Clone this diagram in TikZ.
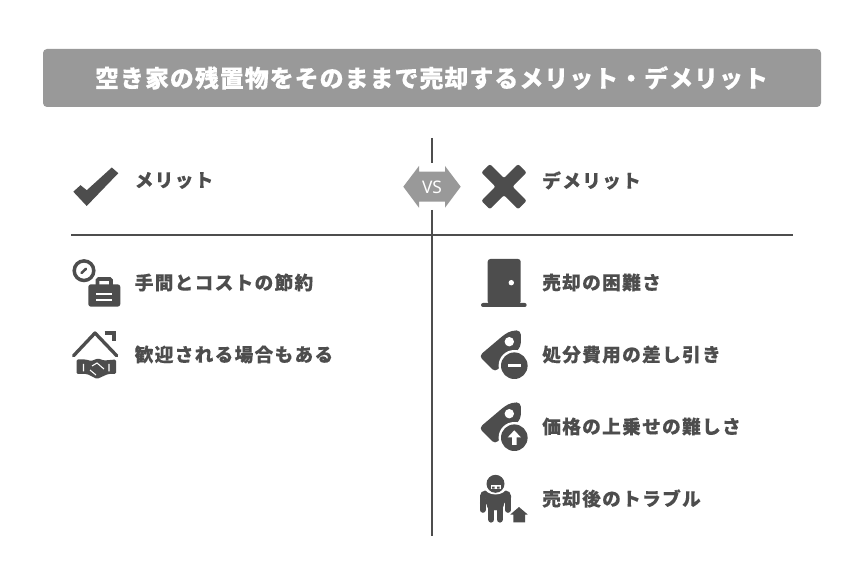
\documentclass[tikz,border=0pt]{standalone}
\usepackage{fontspec}
\setmainfont{Noto Sans CJK JP}[BoldFont={Noto Sans CJK JP Bold}]
\newfontfamily\jpb{Noto Sans CJK JP}[LetterSpace=7,FakeBold=0.2]
\newfontfamily\jpt{Noto Sans CJK JP}[LetterSpace=4,FakeBold=0.25]
\newfontfamily\vsf{Noto Sans}
\definecolor{dk}{HTML}{4D4D4D}
\definecolor{md}{HTML}{999999}
\definecolor{tx}{HTML}{4D4D4D}
\tikzset{
 item/.style={anchor=west,inner sep=0pt,text=tx,font=\jpb\bfseries\fontsize{14}{16}\selectfont},
 rule/.style={draw=dk,line width=1.5pt},
 whl/.style={draw=white,line width=1.5pt},
}
\begin{document}
\begin{tikzpicture}[x=0.75pt,y=-0.75pt]
\useasboundingbox (0,0) rectangle (864,573);
\fill[white] (0,0) rectangle (864,573);
\node[fill=md,rounded corners=3pt,minimum width=583.5pt,minimum height=43.5pt,inner sep=0pt,anchor=center] (banner) at (432,78) {};
\node[text=white,font=\jpt\bfseries\fontsize{18}{22}\selectfont,inner sep=0pt] (title) at (431.5,78) {空き家の残置物をそのままで売却するメリット・デメリット};
% rules
\coordinate (vt) at (432,138); \coordinate (vtb) at (432,163);
\coordinate (vb) at (432,210); \coordinate (vbb) at (432,536);
\coordinate (hl) at (71,235); \coordinate (hr) at (793,235);
\draw[rule] (vt)--(vtb);
\draw[rule] (vb)--(vbb);
\draw[rule] (hl)--(hr);
% VS
\fill[md] (403.3,186.7)--(419,166)--(419,171.7)--(445,171.7)--(445,166)--(460.7,186.7)--(445,207.7)--(445,201.7)--(419,201.7)--(419,207.7)--cycle;
\node[text=white,font=\vsf\fontsize{13}{14}\selectfont,inner sep=0pt] (vs) at (432,187) {VS};
% check
\fill[dk] (73.3,191.7)--(80.5,185.2)--(86.8,190.2)--(111.8,167.5)--(118.3,173.2)--(86.7,206)--cycle;
% cross
\begin{scope}[shift={(504,186.7)},rotate=45]
\fill[dk,rounded corners=1.5pt] (-6,-26)--(6,-26)--(6,-6)--(26,-6)--(26,6)--(6,6)--(6,26)--(-6,26)--(-6,6)--(-26,6)--(-26,-6)--(-6,-6)--cycle;
\end{scope}
% heads
\node[item] (merit) at (134.5,180.5) {メリット};
\node[item] (demerit) at (542,180.5) {デメリット};
% items
\node[item] (m1) at (134.5,282.5) {手間とコストの節約};
\node[item] (m2) at (134.5,354.5) {歓迎される場合もある};
\node[item] (d1) at (542,282.5) {売却の困難さ};
\node[item] (d2) at (542,354.5) {処分費用の差し引き};
\node[item] (d3) at (542,426.5) {価格の上乗せの難しさ};
\node[item] (d4) at (542,498.5) {売却後のトラブル};
% clock
\draw[dk,line width=2.6pt] (84,270.7) circle (9.8);
\draw[dk,line width=1.9pt,line cap=round] (81.5,273)--(86,268.8);
% briefcase
\draw[dk,line width=2.8pt,rounded corners=1pt] (97.5,285)--(97.5,279)--(111,279)--(111,285);
\fill[dk,rounded corners=2pt] (88.3,284.3) rectangle (120.3,306.7);
\draw[whl] (96,294)--(112.3,294);
\draw[whl] (96,300)--(112.3,300);
% house
\draw[dk,line width=2.5pt,line join=round,line cap=round] (73.5,355.8)--(95,333)--(116.8,355.8);
\draw[dk,line width=2.8pt] (104.5,332.8)--(114.3,332.8)--(114.3,341);
% handshake
\fill[dk,rounded corners=1pt] (76.5,359.5)--(86,359.5)--(91,361)--(98,358.5)--(104,360.5)--(116,359.5)--(116,374)--(108,374)--(97,379)--(87,374)--(76.5,374)--cycle;
\draw[white,line width=0.8pt] (83.5,364)--(83.5,371.5) (109,364)--(109,371.5) (90,370)--(96,375) (92,366)--(97,363)--(104,369);
% door
\fill[dk,rounded corners=2pt] (487.7,304)--(487.7,259)--(520.7,259)--(520.7,304)--cycle;
\fill[dk,rounded corners=1.5pt] (481,303)--(526.7,303)--(526.7,307)--(481,307)--cycle;
\fill[white] (511.3,282.7) circle (2.7);
% tags
\foreach \dy in {0,72}{
\begin{scope}[yshift={-0.75pt*\dy}]
\fill[dk,rounded corners=3pt] (479,356)--(505,334)--(512,330.5)--(520.8,330.5)--(520.8,347)--(495,372)--cycle;
\fill[white] (509.3,341.7) circle (4.7);
\fill[white] (514.3,365.7) circle (15.7);
\fill[dk] (514.3,365.7) circle (13.3);
\end{scope}}
\draw[white,line width=2.2pt] (508,365.7)--(520.6,365.7);
\fill[white] (514.3,430.3)--(521,437.5)--(516.5,437.5)--(516.5,445)--(512.2,445)--(512.2,437.5)--(507.6,437.5)--cycle;
% person
\draw[dk,line width=4.2pt,line cap=round] (482.8,499)--(482.8,510);
\draw[dk,line width=4.2pt,line cap=round] (508,499)--(508,510);
\draw[dk,line width=4.7pt,line cap=round] (491.3,505)--(491.3,519.5);
\draw[dk,line width=4.7pt,line cap=round] (499.7,505)--(499.7,519.5);
\fill[dk,rounded corners=3pt] (487,510)--(487,497)--(503.5,497)--(503.5,510)--cycle;
\fill[dk,rounded corners=4pt] (480,503)--(480,490.5)--(511,490.5)--(511,503)--(505.6,503)--(505.6,499)--(504,499)--(503.5,510)--(487,510)--(486,499)--(485.3,499)--(485.3,503)--cycle;
\fill[white] (495.5,487) ellipse (11 and 7.5);
\fill[dk] (495.5,483.8) circle (9);
\fill[white] (490.5,485.3) rectangle (501,488.5);
\fill[dk] (492,486.5) rectangle (494.7,488.5) (497,486.5) rectangle (499.7,488.5);
\fill[dk] (519,507)--(527.7,514.5)--(525,514.5)--(525,522.3)--(513.3,522.3)--(513.3,514.5)--(510.3,514.5)--cycle;
\end{tikzpicture}
\end{document}
